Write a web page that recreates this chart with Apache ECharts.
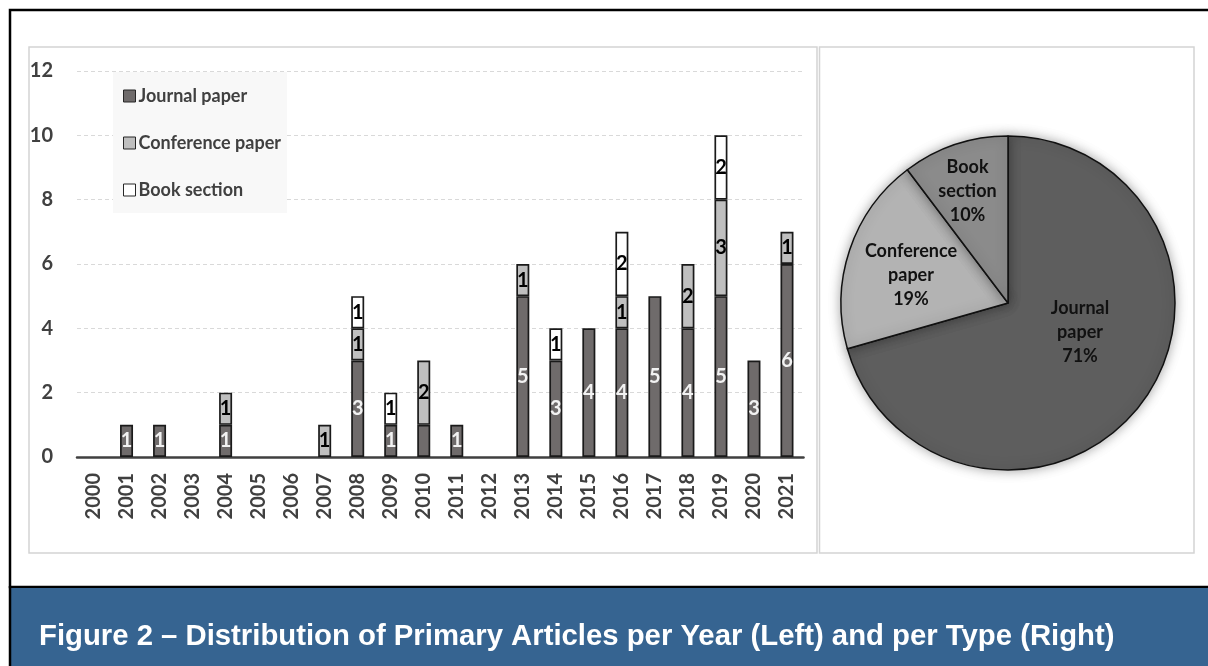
<!DOCTYPE html>
<html>
<head>
<meta charset="utf-8">
<script src="https://cdn.jsdelivr.net/npm/echarts@6/dist/echarts.min.js"></script>
<style>
html,body{margin:0;padding:0;background:#fff;}
#chart{width:1208px;height:666px;}
</style>
</head>
<body>
<div id="chart"></div>
<script>
// ---- data ----
var years = ['2000','2001','2002','2003','2004','2005','2006','2007','2008','2009','2010','2011','2012','2013','2014','2015','2016','2017','2018','2019','2020','2021'];
var seriesNames = ['Journal paper','Conference paper','Book section'];
var journal    = [0,1,1,0,1,0,0,0,3,1,1,1,0,5,3,4,4,5,4,5,3,6];
var conference = [0,0,0,0,1,0,0,1,1,0,2,0,0,1,0,0,1,0,2,3,0,1];
var book       = [0,0,0,0,0,0,0,0,1,1,0,0,0,0,1,0,2,0,0,2,0,0];
var journalHiddenLabels = ['2010']; // label not shown in the reference
var yTicks = {min:0, max:12, interval:2};
var caption = 'Figure 2 \u2013 Distribution of Primary Articles per Year (Left) and per Type (Right)';

var barColors = ['#6f6b6b','#bfbfbf','#ffffff'];
var pieColors = ['#5e5e5e','#b3b3b3','#8b8b8b'];
var FONT = 'Lato, "Open Sans", sans-serif';

function toData(arr, hidden){
  return arr.map(function(v,i){
    if (v === 0) return {value: null};
    if (hidden && hidden.indexOf(years[i]) >= 0) return {value: v, label:{show:false}};
    return {value: v};
  });
}
function sum(a){return a.reduce(function(s,v){return s+v;},0);}

var chart = echarts.init(document.getElementById('chart'), null, {renderer:'canvas'});

var barCommon = function(name, data, color, labelColor){
  return {
    name: name, type:'bar', stack:'total', data: data,
    barWidth: 13,
    itemStyle:{color: color, borderColor:'#1a1a1a', borderWidth:1.7},
    label:{show:true, position:'inside', color: labelColor, fontFamily: FONT, fontWeight:'bold', fontSize:20,
      formatter: function(p){return p.value;}},
    emphasis:{disabled:true}
  };
};

var option = {
  animation:false,
  backgroundColor:'#ffffff',
  title:{
    text: caption, left: 34, top: 617,
    textStyle:{color:'#ffffff', fontFamily:'"Liberation Sans", Arial, sans-serif', fontWeight:'bold', fontSize:29.3}
  },
  graphic:[
    {type:'rect', z:-10, shape:{x:10,y:10,width:1210,height:577}, style:{fill:'#ffffff', stroke:'#000000', lineWidth:2.5}},
    {type:'rect', z:-9, shape:{x:11,y:588,width:1200,height:80}, style:{fill:'#366491'}},
    {type:'line', z:-8, shape:{x1:10,y1:586,x2:10,y2:668}, style:{stroke:'#000000', lineWidth:2.5}},
    {type:'rect', z:-8, shape:{x:29,y:47,width:788,height:506}, style:{fill:'#ffffff', stroke:'#d4d4d4', lineWidth:1.5}},
    {type:'rect', z:-8, shape:{x:819.5,y:47,width:374.5,height:506}, style:{fill:'#ffffff', stroke:'#d4d4d4', lineWidth:1.5}},
    {type:'rect', z:3, shape:{x:113,y:72,width:174,height:141}, style:{fill:'#f8f8f8'}}
  ],
  legend:{
    orient:'vertical', left:118, top:82, z:6,
    data: seriesNames,
    itemWidth:12, itemHeight:12, itemGap:29,
    icon:'rect',
    itemStyle:{borderColor:'#262626', borderWidth:1},
    textStyle:{color:'#404040', fontFamily:FONT, fontWeight:'bold', fontSize:18, padding:[0,0,0,-2]},
    selectedMode:false
  },
  grid:{left:77, right:404.5, top:71, bottom:209, containLabel:false},
  xAxis:{
    type:'category', data: years,
    axisLine:{lineStyle:{color:'#404040', width:2.5}},
    axisTick:{show:false},
    axisLabel:{rotate:90, margin:16, color:'#404040', fontFamily:FONT, fontWeight:'bold', fontSize:20, interval:0}
  },
  yAxis:{
    type:'value', min:yTicks.min, max:yTicks.max, interval:yTicks.interval,
    axisLine:{show:false}, axisTick:{show:false},
    axisLabel:{margin:24, color:'#404040', fontFamily:FONT, fontWeight:'bold', fontSize:20},
    splitLine:{lineStyle:{color:'#d9d9d9', type:[4,3], width:1}}
  },
  series:[
    barCommon(seriesNames[0], toData(journal, journalHiddenLabels), barColors[0], '#f2f2f2'),
    barCommon(seriesNames[1], toData(conference), barColors[1], '#000000'),
    barCommon(seriesNames[2], toData(book), barColors[2], '#000000'),
    {
      type:'pie', center:[1008,303], radius:167, startAngle:90, clockwise:true,
      data:[
        {name: seriesNames[0], value: sum(journal), itemStyle:{color:pieColors[0]}, label:{offset:[3,-23]}},
        {name: seriesNames[1], value: sum(conference), itemStyle:{color:pieColors[1]}, label:{offset:[-15,0]}},
        {name: seriesNames[2], value: sum(book), itemStyle:{color:pieColors[2]}, label:{offset:[-13,-30]}}
      ],
      itemStyle:{borderColor:'#111111', borderWidth:1.5, shadowBlur:12, shadowColor:'rgba(0,0,0,0.35)'},
      label:{show:true, position:'inside', color:'#111111', fontFamily:FONT, fontWeight:'bold', fontSize:18, lineHeight:24,
        formatter:function(p){return p.name.replace(' ','\n') + '\n' + Math.round(p.percent) + '%';}},
      labelLine:{show:false},
      emphasis:{disabled:true},
      silent:true
    }
  ]
};
chart.setOption(option);
</script>
</body>
</html>
